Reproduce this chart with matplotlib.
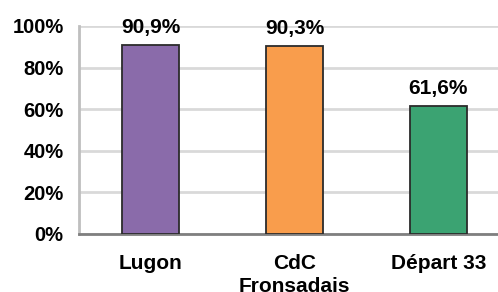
import matplotlib.pyplot as plt
from matplotlib.ticker import FuncFormatter

# données
categories = ['Lugon', 'CdC\nFronsadais', 'Départ 33']
valeurs = [90.9, 90.3, 61.6]
etiquettes = ['90,9%', '90,3%', '61,6%']
couleurs = ['#8a6baa', '#f99d4c', '#3ba372']
yticks = [0, 20, 40, 60, 80, 100]

plt.rcParams['font.family'] = ['Liberation Sans', 'DejaVu Sans']
plt.rcParams['font.weight'] = 'bold'

fig = plt.figure(figsize=(4.98, 2.92), dpi=100)
ax = fig.add_axes([0.1586, 0.2, 0.8414, 0.711])

x = range(len(categories))
bars = ax.bar(x, valeurs, width=0.397, color=couleurs, edgecolor='#2b2b2b',
              linewidth=1.3, zorder=3)

for b, lab in zip(bars, etiquettes):
    ax.annotate(lab, (b.get_x() + b.get_width() / 2, b.get_height()),
                xytext=(0, 8.5), textcoords='offset points',
                ha='center', va='baseline', fontsize=15, fontweight='bold')

ax.set_xlim(-0.5, 2.416)
ax.set_ylim(0, 100)
ax.set_yticks(yticks)
ax.yaxis.set_major_formatter(FuncFormatter(lambda v, p: f'{v:.0f}%'))
ax.set_xticks(list(x))
ax.set_xticklabels(categories, fontsize=15, fontweight='bold', linespacing=1.25)
for t in ax.get_yticklabels():
    t.set_verticalalignment('center_baseline')
ax.tick_params(axis='y', length=0, pad=11, labelsize=14.5)
ax.tick_params(axis='x', length=0, pad=15)

ax.grid(axis='y', color='#d9d9d9', linewidth=2, zorder=0)
for s in ['top', 'right']:
    ax.spines[s].set_visible(False)
ax.spines['left'].set_color('#bfbfbf')
ax.spines['left'].set_linewidth(2)
ax.spines['bottom'].set_color('#7f7f7f')
ax.spines['bottom'].set_linewidth(2)

fig.savefig('out.png', dpi=100)
